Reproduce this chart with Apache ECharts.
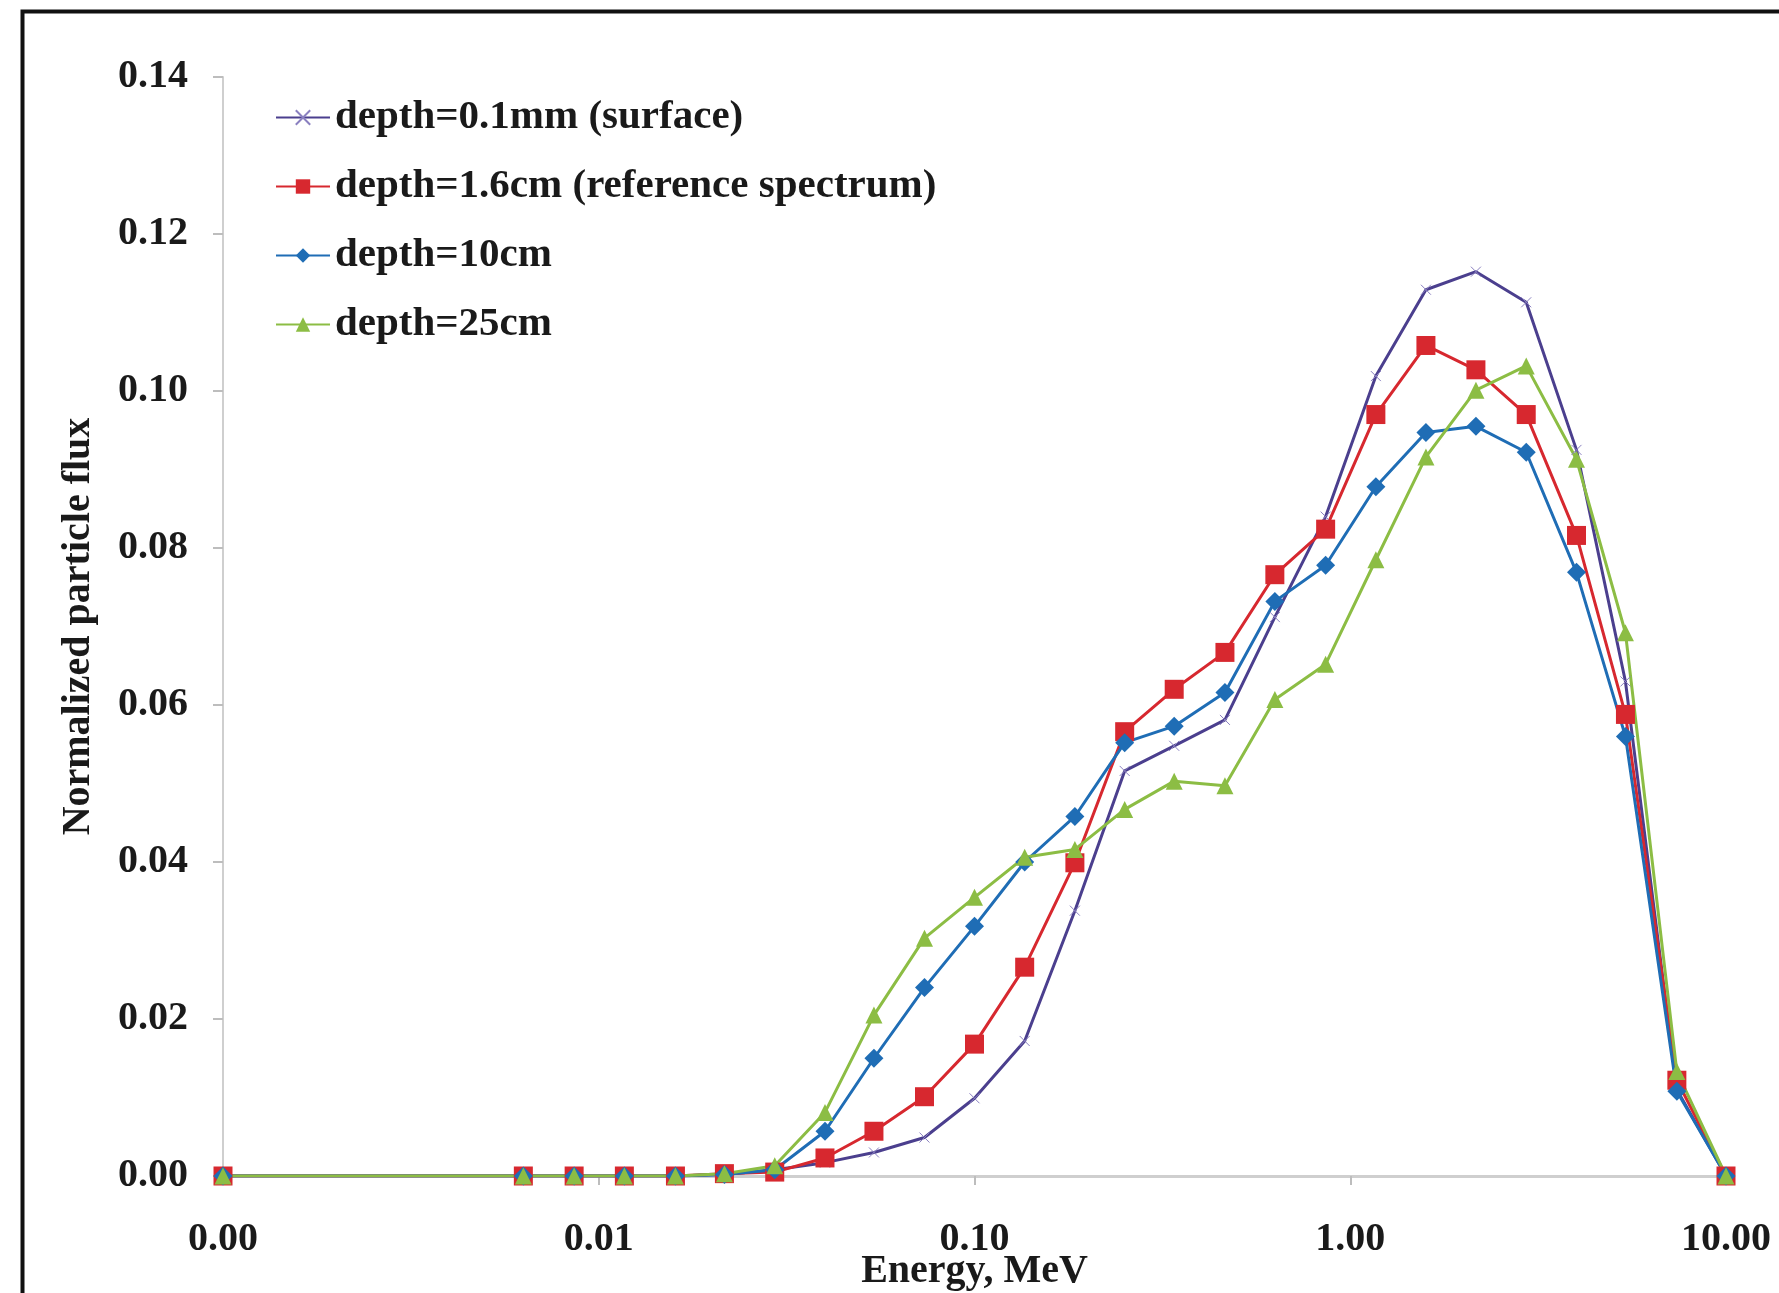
<!DOCTYPE html>
<html>
<head>
<meta charset="utf-8">
<script src="https://cdn.jsdelivr.net/npm/echarts@6/dist/echarts.min.js"></script>
<style>
html,body{margin:0;padding:0;background:#fff;}
#chart{width:1779px;height:1293px;}
</style>
</head>
<body>
<div id="chart"></div>
<script>
// Energy (MeV)
const energies = [0.001, 0.0063, 0.0086, 0.0117, 0.016, 0.0216, 0.0294, 0.04, 0.054, 0.0736, 0.1, 0.136, 0.185, 0.251, 0.34, 0.464, 0.63, 0.86, 1.17, 1.59, 2.16, 2.94, 4.0, 5.4, 7.4, 10];
const seriesNames = ['depth=0.1mm (surface)', 'depth=1.6cm (reference spectrum)', 'depth=10cm', 'depth=25cm'];
const surface = [0, 0, 0, 0, 0, 0.0002, 0.0008, 0.0017, 0.003, 0.0049, 0.0099, 0.0172, 0.0338, 0.0516, 0.0548, 0.0581, 0.0712, 0.084, 0.1019, 0.1129, 0.1152, 0.1113, 0.0925, 0.063, 0.011, 0];
const reference = [0, 0, 0, 0, 0, 0.0003, 0.0005, 0.0023, 0.0057, 0.0101, 0.0168, 0.0266, 0.0399, 0.0566, 0.062, 0.0667, 0.0766, 0.0824, 0.097, 0.1058, 0.1027, 0.097, 0.0816, 0.0588, 0.0122, 0];
const depth10 = [0, 0, 0, 0, 0, 0.0002, 0.0008, 0.0057, 0.015, 0.024, 0.0318, 0.040, 0.0458, 0.0552, 0.0573, 0.0616, 0.0732, 0.0778, 0.0878, 0.0947, 0.0955, 0.0922, 0.0769, 0.056, 0.0108, 0];
const depth25 = [0, 0, 0, 0, 0, 0.0003, 0.0013, 0.0081, 0.0205, 0.0303, 0.0355, 0.0406, 0.0416, 0.0467, 0.0503, 0.0497, 0.0607, 0.0652, 0.0785, 0.0916, 0.1001, 0.1032, 0.0913, 0.0692, 0.0133, 0];
const yTicks = [0, 0.02, 0.04, 0.06, 0.08, 0.10, 0.12, 0.14];

const pair = arr => energies.map((e, i) => [e, arr[i]]);
const FONT = '"Liberation Serif", "Times New Roman", serif';
const txt = '#1a1a1a';

const chart = echarts.init(document.getElementById('chart'));
chart.setOption({
  backgroundColor: '#ffffff',
  animation: false,
  graphic: [{
    type: 'rect', left: 20, top: 9, z: 100,
    shape: { width: 1820, height: 1320 },
    style: { fill: 'none', stroke: '#111', lineWidth: 4 }
  }],
  grid: { left: 223, right: 53, top: 77, bottom: 117, containLabel: false, outerBoundsMode: 'none' },
  legend: {
    orient: 'vertical', left: 270, top: 92,
    itemWidth: 54, itemHeight: 18, itemGap: 28,
    itemTextGap: 3,
    textStyle: { fontFamily: FONT, fontWeight: 'bold', fontSize: 41, color: txt },
    data: seriesNames
  },
  xAxis: {
    type: 'log', logBase: 10, min: 0.001, max: 10,
    name: 'Energy, MeV', nameLocation: 'middle', nameGap: 76, nameMoveOverlap: false,
    nameTextStyle: { fontFamily: FONT, fontWeight: 'bold', fontSize: 40, color: txt },
    axisLine: { lineStyle: { color: '#cfcfcf', width: 3 } },
    axisTick: { show: true, length: 9, lineStyle: { color: '#bdbdbd', width: 2 } },
    minorTick: { show: false },
    splitLine: { show: false },
    axisLabel: {
      margin: 44, fontFamily: FONT, fontWeight: 'bold', fontSize: 40, color: txt,
      formatter: v => Number(v).toFixed(2)
    }
  },
  yAxis: {
    type: 'value', min: 0, max: 0.14, interval: 0.02,
    name: 'Normalized particle flux', nameLocation: 'middle', nameGap: 124, nameMoveOverlap: false,
    nameTextStyle: { fontFamily: FONT, fontWeight: 'bold', fontSize: 40, color: txt },
    axisLine: { show: true, lineStyle: { color: '#cfcfcf', width: 2 } },
    axisTick: { show: true, length: 10, lineStyle: { color: '#bdbdbd', width: 2 } },
    splitLine: { show: false },
    axisLabel: {
      margin: 35, fontFamily: FONT, fontWeight: 'bold', fontSize: 40, color: txt,
      formatter: v => Number(v).toFixed(2)
    }
  },
  series: [
    {
      name: seriesNames[0], type: 'line', data: pair(surface),
      symbol: 'path://M0,0L10,10M10,0L0,10', symbolSize: 10,
      lineStyle: { color: '#4b3f8e', width: 3 },
      itemStyle: { color: '#4b3f8e', borderColor: '#8a80c0', borderWidth: 1 }
    },
    {
      name: seriesNames[1], type: 'line', data: pair(reference),
      symbol: 'rect', symbolSize: 19,
      lineStyle: { color: '#d7282f', width: 3 },
      itemStyle: { color: '#d7282f' }
    },
    {
      name: seriesNames[2], type: 'line', data: pair(depth10),
      symbol: 'diamond', symbolSize: 19,
      lineStyle: { color: '#1f6db5', width: 3 },
      itemStyle: { color: '#1f6db5' }
    },
    {
      name: seriesNames[3], type: 'line', data: pair(depth25),
      symbol: 'triangle', symbolSize: 17,
      lineStyle: { color: '#8cbd44', width: 3 },
      itemStyle: { color: '#8cbd44' }
    }
  ]
});
</script>
</body>
</html>
